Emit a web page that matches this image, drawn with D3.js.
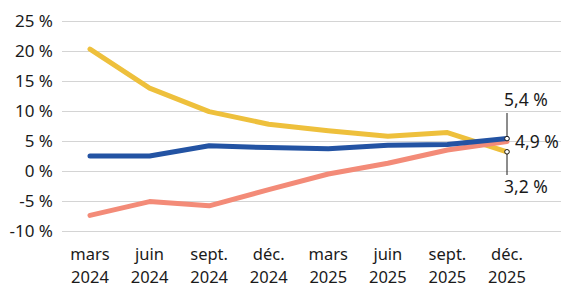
<!DOCTYPE html>
<html lang="fr">
<head>
    <meta charset="UTF-8">
    <title>Chart</title>
    <script src="https://cdn.jsdelivr.net/npm/d3@7"></script>
    <style>
        body { margin: 0; background: #fff; }
        text { font-family: "Noto Sans", "DejaVu Sans", sans-serif; fill: #1a1a1a; }
        .grid line { stroke: #d4d4d4; stroke-width: 1; }
        .grid path { display: none; }
    </style>
</head>
<body>
<svg id="chart" width="561" height="288"></svg>
<script>
    var months = ['mars', 'juin', 'sept.', 'déc.', 'mars', 'juin', 'sept.', 'déc.'];
    var years = ['2024', '2024', '2024', '2024', '2025', '2025', '2025', '2025'];
    var yTicks = [-10, -5, 0, 5, 10, 15, 20, 25];

    var yellowValues = [20.3, 13.8, 9.9, 7.8, 6.7, 5.8, 6.4, 3.2];
    var blueValues = [2.5, 2.5, 4.2, 3.9, 3.7, 4.3, 4.4, 5.4];
    var salmonValues = [-7.4, -5.1, -5.8, -3.1, -0.5, 1.3, 3.5, 4.9];

    (function () {
        var svg = d3.select('#chart');
        var idx = d3.range(months.length);

        var x = d3.scalePoint()
            .domain(idx)
            .range([90, 507]);

        var y = d3.scaleLinear()
            .domain([-10, 25])
            .range([231, 21]);

        // gridlines
        svg.append('g')
            .attr('class', 'grid')
            .attr('transform', 'translate(62,0)')
            .call(d3.axisLeft(y).tickValues(yTicks).tickSize(-499).tickFormat(''));

        // y labels
        svg.selectAll('.ylab')
            .data(yTicks)
            .enter().append('text')
            .attr('class', 'ylab')
            .attr('x', 53)
            .attr('y', function (d) { return y(d); })
            .attr('dy', '0.35em')
            .attr('text-anchor', 'end')
            .attr('font-size', 17)
            .text(function (d) { return d + ' %'; });

        // x labels, month then year
        svg.selectAll('.xmonth')
            .data(idx)
            .enter().append('text')
            .attr('class', 'xmonth')
            .attr('text-anchor', 'middle')
            .attr('font-size', 16.5)
            .attr('x', function (d) { return x(d); })
            .attr('y', 260)
            .text(function (d) { return months[d]; });
        svg.selectAll('.xyear')
            .data(idx)
            .enter().append('text')
            .attr('class', 'xyear')
            .attr('text-anchor', 'middle')
            .attr('font-size', 16.5)
            .attr('x', function (d) { return x(d); })
            .attr('y', 283)
            .text(function (d) { return years[d]; });

        var line = d3.line()
            .x(function (d, i) { return x(i); })
            .y(function (d) { return y(d); });

        var series = [
            {values: yellowValues, color: '#eec03c'},
            {values: salmonValues, color: '#f38b78'},
            {values: blueValues, color: '#2353a3'}
        ];

        svg.selectAll('.series')
            .data(series)
            .enter().append('path')
            .attr('class', 'series')
            .attr('fill', 'none')
            .attr('stroke', function (d) { return d.color; })
            .attr('stroke-width', 5)
            .attr('stroke-linecap', 'round')
            .attr('stroke-linejoin', 'round')
            .attr('d', function (d) { return line(d.values); });

        // end annotations
        var last = months.length - 1;
        var lx = x(last);

        svg.append('line')
            .attr('x1', lx).attr('x2', lx)
            .attr('y1', y(blueValues[last]) - 2).attr('y2', 113)
            .attr('stroke', '#1a1a1a').attr('stroke-width', 1);
        svg.append('line')
            .attr('x1', lx).attr('x2', lx)
            .attr('y1', y(yellowValues[last]) + 2).attr('y2', 175)
            .attr('stroke', '#1a1a1a').attr('stroke-width', 1);

        svg.selectAll('.mk')
            .data([blueValues[last], yellowValues[last]])
            .enter().append('circle')
            .attr('class', 'mk')
            .attr('cx', lx)
            .attr('cy', function (d) { return y(d); })
            .attr('r', 2.3)
            .attr('fill', '#fff')
            .attr('stroke', '#1a1a1a')
            .attr('stroke-width', 1);

        function fmt(v) { return String(v).replace('.', ',') + ' %'; }

        svg.append('text')
            .attr('x', lx - 3).attr('y', 106)
            .attr('font-size', 17.5)
            .text(fmt(blueValues[last]));
        svg.append('text')
            .attr('x', lx + 8).attr('y', 148)
            .attr('font-size', 17.5)
            .text(fmt(salmonValues[last]));
        svg.append('text')
            .attr('x', lx - 3).attr('y', 193)
            .attr('font-size', 17.5)
            .text(fmt(yellowValues[last]));
    })();
</script>
</body>
</html>
